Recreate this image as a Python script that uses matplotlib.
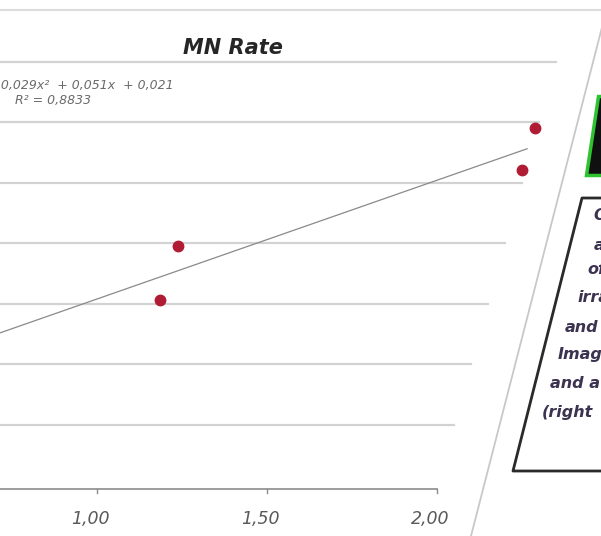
import numpy as np
import matplotlib.pyplot as plt
from matplotlib.patches import Polygon

# data
x_vals = [1.185, 1.238, 2.25, 2.288]
y_vals = [0.153, 0.1975, 0.260, 0.295]
grid_levels = [0.05, 0.10, 0.15, 0.20, 0.25, 0.30, 0.35]
tick_vals = [1.0, 1.5, 2.0]
tick_labels = ["1,00", "1,50", "2,00"]
title = "MN Rate"
eq_text = "y = 0,029x²  + 0,051x  + 0,021"
r2_text = "R² = 0,8833"
box_lines = ["O", "a", "of", "irra", "and", "Imag", "and a", "(right"]

W, H = 601, 536
fig = plt.figure(figsize=(W / 100, H / 100), dpi=100)
fig.patch.set_facecolor("white")

# chart axes spanning the whole picture
ax = fig.add_axes([0, 0, 1, 1])
x0, x1 = 1 - 97 / 340, 1 + (W - 97) / 340
y0, y1 = -(H - 485) / 1210, 485 / 1210
ax.set_xlim(x0, x1)
ax.set_ylim(y0, y1)
ax.axis("off")

# gridlines end along a slanted edge (photo perspective)
for g in grid_levels:
    ax.plot([x0, 2.0 + g], [g, g], color="#d2d2d2", lw=1.6, zorder=1)
ax.plot([x0, 2.0], [-0.003, -0.003], color="#8c8c8c", lw=1.2, zorder=2)
for t, lab in zip(tick_vals, tick_labels):
    ax.plot([t, t], [-0.003, -0.007], color="#8c8c8c", lw=1.0)
    ax.text(t - 0.02, -0.0285, lab, ha="center", va="center", fontsize=12.5,
            style="italic", color="#5a5a5a")

# trendline
coef = np.polyfit(x_vals, y_vals, 1)
xs = np.linspace(x0, 2.265, 50)
ax.plot(xs, np.polyval(coef, xs), color="#8a8a8a", lw=0.9, zorder=3)
ax.plot(x_vals, y_vals, "o", color="#b01c34", ms=7.5, mec="#b01c34", zorder=4)

ax.text(1.40, 0.3615, title, ha="center", va="center", fontsize=15,
        fontweight="bold", style="italic", color="#262626")
ax.text(1.225, 0.3305, eq_text, ha="right", va="center", fontsize=9,
        style="italic", color="#6a6a6a")
ax.text(0.870, 0.3175, r2_text, ha="center", va="center", fontsize=9,
        style="italic", color="#6a6a6a")

# decorations in pixel coords
ov = fig.add_axes([0, 0, 1, 1])
ov.set_xlim(0, W)
ov.set_ylim(H, 0)
ov.axis("off")
ov.patch.set_alpha(0)

ov.plot([0, 600], [10, 10], color="#dcdcdc", lw=1.5)
ov.plot([609, 471], [0, 536], color="#c8c8c8", lw=1.3)

green = Polygon([(598, 96), (603, 96), (603, 175), (586, 175)], closed=True,
                facecolor="#101010", edgecolor="#2fc42f", lw=2.5)
ov.add_patch(green)

ov.plot([603, 582, 513, 603], [198, 198, 471, 471], color="#2a2a2a", lw=2.0)

line_x = [593, 594, 587, 577, 565, 558, 550, 542]
line_y = [216, 246, 270, 298, 328, 355, 383, 412]
for tx, ty, s in zip(line_x, line_y, box_lines):
    ov.text(tx, ty, s, ha="left", va="center", fontsize=11.5, style="italic",
            fontweight="bold", color="#3b3350")

fig.savefig("out.png", dpi=100)
